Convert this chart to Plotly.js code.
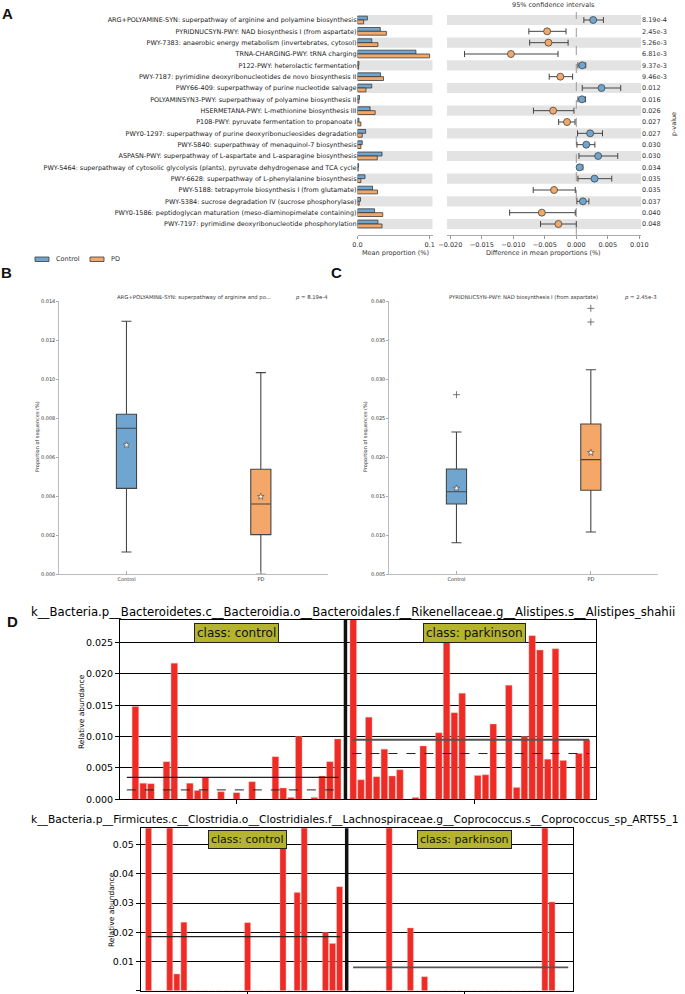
<!DOCTYPE html>
<html><head><meta charset="utf-8">
<script src="https://cdn.plot.ly/plotly-3.0.1.min.js"></script>
<style>html,body{margin:0;padding:0;background:#fff}#chart{width:685px;height:994px}</style>
</head><body><div id="chart"></div>
<script>
// ===== Panel A data =====
const pathways = [
 "ARG+POLYAMINE-SYN: superpathway of arginine and polyamine biosynthesis",
 "PYRIDNUCSYN-PWY: NAD biosynthesis I (from aspartate)",
 "PWY-7383: anaerobic energy metabolism (invertebrates, cytosol)",
 "TRNA-CHARGING-PWY: tRNA charging",
 "P122-PWY: heterolactic fermentation",
 "PWY-7187: pyrimidine deoxyribonucleotides de novo biosynthesis II",
 "PWY66-409: superpathway of purine nucleotide salvage",
 "POLYAMINSYN3-PWY: superpathway of polyamine biosynthesis II",
 "HSERMETANA-PWY: L-methionine biosynthesis III",
 "P108-PWY: pyruvate fermentation to propanoate I",
 "PWY0-1297: superpathway of purine deoxyribonucleosides degradation",
 "PWY-5840: superpathway of menaquinol-7 biosynthesis",
 "ASPASN-PWY: superpathway of L-aspartate and L-asparagine biosynthesis",
 "PWY-5464: superpathway of cytosolic glycolysis (plants), pyruvate dehydrogenase and TCA cycle",
 "PWY-6628: superpathway of L-phenylalanine biosynthesis",
 "PWY-5188: tetrapyrrole biosynthesis I (from glutamate)",
 "PWY-5384: sucrose degradation IV (sucrose phosphorylase)",
 "PWY0-1586: peptidoglycan maturation (meso-diaminopimelate containing)",
 "PWY-7197: pyrimidine deoxyribonucleotide phosphorylation"
];
const controlMean = [0.0137,0.0316,0.0198,0.081,0.002,0.032,0.0198,0.0028,0.0175,0.002,0.0113,0.0066,0.034,0.0014,0.0104,0.0208,0.0042,0.0236,0.0283];
const pdMean      = [0.0085,0.040,0.0283,0.100,0.0015,0.036,0.0118,0.002,0.0245,0.0047,0.0066,0.0047,0.0274,0.001,0.0047,0.0278,0.0024,0.035,0.034];
const diffMean = [0.00268,-0.00463,-0.00442,-0.01037,0.00095,-0.00253,0.0040,0.0009,-0.00368,-0.00147,0.0022,0.00158,0.00347,0.00053,0.0029,-0.00353,0.00105,-0.00547,-0.00284];
const ciLow    = [0.0012,-0.00753,-0.0074,-0.01774,0.00026,-0.0043,0.00095,0.00026,-0.0068,-0.0028,0.0002,0.0001,0.00042,0.00016,0.00026,-0.00684,0.0001,-0.01058,-0.00568];
const ciHigh   = [0.0043,-0.00163,-0.0013,-0.0029,0.0015,-0.00058,0.00705,0.00147,-0.00037,-0.0002,0.00416,0.00295,0.00658,0.00105,0.00563,-0.00016,0.002,-0.00016,0];
const pValues  = ["8.19e-4","2.45e-3","5.26e-3","6.81e-3","9.37e-3","9.46e-3","0.012","0.016","0.026","0.027","0.027","0.030","0.030","0.034","0.035","0.035","0.037","0.040","0.048"];
const diffTicks = [-0.02,-0.015,-0.01,-0.005,0,0.005,0.01];

// ===== Panel B / C data =====
const groups = ["Control","PD"];
const bQ1=[0.0044,0.00203], bMedian=[0.00748,0.0036], bQ3=[0.0082,0.00538], bLow=[0.00114,0.0], bHigh=[0.01296,0.01033], bMean=[0.00662,0.00398];
const bTitle = "ARG+POLYAMINE-SYN: superpathway of arginine and po...", bP = "8.19e-4";
const cQ1=[0.0140,0.01576], cMedian=[0.01558,0.01968], cQ3=[0.01849,0.02425], cLow=[0.00905,0.01042], cHigh=[0.02322,0.0312], cMean=[0.01601,0.02058];
const cOutGroup=["Control","PD","PD"], cOutVal=[0.0280,0.03906,0.03731];
const cTitle = "PYRIDNUCSYN-PWY: NAD biosynthesis I (from aspartate)", cP = "2.45e-3";

// ===== Panel D data =====
const d1Title = "k__Bacteria.p__Bacteroidetes.c__Bacteroidia.o__Bacteroidales.f__Rikenellaceae.g__Alistipes.s__Alistipes_shahii";
const d1Control = [0,0.0148,0.00255,0.0025,0,0.0060,0.0217,0,0.00255,0.0014,0.0035,0,0.0012,0,0.00105,0,0.0028,0,0,0.0068,0.0018,0.0003,0.0100,0,0.0003,0.0037,0.0060,0.0096];
const d1Parkinson = [0.030,0.0031,0.0131,0.0036,0.0080,0.0037,0.0047,0,0.0003,0.0085,0,0.0106,0.0253,0.0138,0.0169,0,0.0038,0.0039,0.0120,0,0.0182,0.0019,0.0100,0.0261,0.0238,0.0064,0.0240,0.0062,0,0.0073,0.0095];
const d1Means = [0.0035,0.0095], d1Medians = [0.0015,0.0073];
const d2Title = "k__Bacteria.p__Firmicutes.c__Clostridia.o__Clostridiales.f__Lachnospiraceae.g__Coprococcus.s__Coprococcus_sp_ART55_1";
const d2Control = [0.08,0,0,0.08,0.0057,0.0234,0,0,0,0,0,0,0,0,0.0233,0,0,0,0,0.0505,0,0.0336,0.08,0,0,0.0199,0.0162,0.0356];
const d2Parkinson = [0,0,0,0,0,0.08,0,0,0.0215,0,0.0048,0,0,0,0,0,0,0,0,0,0,0,0,0,0,0,0,0.08,0.0304,0,0];
const d2Means = [0.0185,0.0080], d2Medians = [0,0];
const classNames = ["class: control","class: parkinson"];

// ===== helpers =====
const W=685,H=994;
const PX=x=>x/W, PY=y=>1-y/H;
const dX=(a,b)=>[a/W,b/W], dY=(t,b)=>[1-b/H,1-t/H];
const BLUE="#6fa5cf", ORANGE="#f3a769", EDGE="#3a3a3a", FONT="DejaVu Sans";
const idx = pathways.map((_,i)=>i);

const traces=[], shapes=[], ann=[];
function T(text,x,y,size,opt){
  ann.push(Object.assign({text:text,xref:"paper",yref:"paper",x:PX(x),y:PY(y),xanchor:"center",yanchor:"middle",
    showarrow:false,font:{family:FONT,size:size,color:"#333"}},opt||{}));
}

// ---- Panel A left bars
traces.push({type:"bar",orientation:"h",name:"Control",y:idx,x:controlMean,offset:-0.34,width:0.34,
  marker:{color:BLUE,line:{color:EDGE,width:0.8}},xaxis:"x",yaxis:"y",hoverinfo:"skip"});
traces.push({type:"bar",orientation:"h",name:"PD",y:idx,x:pdMean,offset:0,width:0.34,
  marker:{color:ORANGE,line:{color:EDGE,width:0.8}},xaxis:"x",yaxis:"y",hoverinfo:"skip"});
// ---- Panel A right CI
traces.push({type:"scatter",mode:"markers",x:diffMean,y:idx,xaxis:"x2",yaxis:"y2",
  error_x:{type:"data",symmetric:false,array:ciHigh.map((h,i)=>h-diffMean[i]),arrayminus:ciLow.map((l,i)=>diffMean[i]-l),color:"#444",thickness:1,width:3},
  marker:{size:7,color:diffMean.map(d=>d>0?BLUE:ORANGE),line:{color:"#444",width:0.8}},hoverinfo:"skip"});
idx.forEach(i=>{ if(i%2===0){
  shapes.push({type:"rect",xref:"x domain",yref:"y",x0:0,x1:1,y0:i-0.45,y1:i+0.45,fillcolor:"#e3e3e3",line:{width:0},layer:"below"});
  shapes.push({type:"rect",xref:"x2 domain",yref:"y2",x0:0,x1:1,y0:i-0.45,y1:i+0.45,fillcolor:"#e3e3e3",line:{width:0},layer:"below"});
}});
shapes.push({type:"line",xref:"x2",yref:"paper",x0:0,x1:0,y0:PY(235),y1:PY(12),line:{color:"#999",width:1,dash:"dash"},layer:"below"});
T("95% confidence intervals",553,5,6.5);
T("Mean proportion (%)",395,253,6.5);
T("Difference in mean proportions (%)",543,253,6.5);
T("p-value",674,124,6.5,{textangle:-90});
// legend
[["Control",BLUE,35],["PD",ORANGE,90]].forEach(([n,c,x])=>{
  shapes.push({type:"rect",xref:"paper",yref:"paper",x0:PX(x),x1:PX(x+14),y0:PY(261.5),y1:PY(257),fillcolor:c,line:{color:EDGE,width:0.8}});
  T(n,x+19,259.3,6.5,{xanchor:"left"});
});
// panel letters
[["A",7.5,14],["B",6,272],["C",336,272],["D",12,621]].forEach(([t,x,y])=>{
  T("<b>"+t+"</b>",x,y,15,{font:{family:"Liberation Sans",size:15,color:"#111"}});
});

// ---- Panels B and C boxes
function boxPanel(xa,ya,q1,med,q3,lo,hi,mean){
  [BLUE,ORANGE].forEach((c,i)=>{
    traces.push({type:"box",x:[groups[i]],q1:[q1[i]],median:[med[i]],q3:[q3[i]],lowerfence:[lo[i]],upperfence:[hi[i]],
      fillcolor:c,line:{color:"#454545",width:1.1},width:0.15,whiskerwidth:0.5,boxpoints:false,xaxis:xa,yaxis:ya,hoverinfo:"skip"});
  });
  traces.push({type:"scatter",mode:"markers",x:groups,y:mean,xaxis:xa,yaxis:ya,
    marker:{symbol:"star",size:5,color:"#fff",line:{color:"#555",width:0.7}},hoverinfo:"skip"});
}
boxPanel("x3","y3",bQ1,bMedian,bQ3,bLow,bHigh,bMean);
boxPanel("x4","y4",cQ1,cMedian,cQ3,cLow,cHigh,cMean);
traces.push({type:"scatter",mode:"markers",x:cOutGroup,y:cOutVal,xaxis:"x4",yaxis:"y4",
  marker:{symbol:"cross-thin-open",size:5,color:"#555",line:{color:"#555",width:0.8}},hoverinfo:"skip"});
T(bTitle,194,297,5.3);
T("<i>p</i> = "+bP,330,297,5.3,{xanchor:"right"});
T(cTitle,523,297,5.3);
T("<i>p</i> = "+cP,659,297,5.3,{xanchor:"right"});
T("Proportion of sequences (%)",37,437,5,{textangle:-90});
T("Proportion of sequences (%)",365,437,5,{textangle:-90});

// ---- Panel D
function dPanel(xa,ya,ctrl,park,means,meds){
  const xc=ctrl.map((_,i)=>i), xp=park.map((_,i)=>ctrl.length+1+i);
  traces.push({type:"bar",x:xc.concat(xp),y:ctrl.concat(park),width:0.84,xaxis:xa,yaxis:ya,
    marker:{color:"#ee2b24",line:{color:"#f7b0ad",width:0.4}},hoverinfo:"skip"});
  const ranges=[[xc[0]-0.1,xc[xc.length-1]+0.1],[xp[0]-0.1,xp[xp.length-1]+0.3]];
  [0,1].forEach(k=>{
    traces.push({type:"scatter",mode:"lines",x:ranges[k],y:[means[k],means[k]],xaxis:xa,yaxis:ya,line:{color:k?"#555":"#222",width:k?1.8:1.1},hoverinfo:"skip"});
    if(meds[k]>0) traces.push({type:"scatter",mode:"lines",x:ranges[k],y:[meds[k],meds[k]],xaxis:xa,yaxis:ya,line:{color:"#222",width:1,dash:"dash"},hoverinfo:"skip"});
  });
  shapes.push({type:"line",xref:xa,yref:ya+" domain",x0:ctrl.length,x1:ctrl.length,y0:0,y1:1,line:{color:"#111",width:3.5}});
}
dPanel("x5","y5",d1Control,d1Parkinson,d1Means,d1Medians);
dPanel("x6","y6",d2Control,d2Parkinson,d2Means,d2Medians);
T(d1Title,29,612,11.7,{xanchor:"left",font:{family:FONT,size:11.7,color:"#000"}});
T(d2Title,29,819.5,10.7,{xanchor:"left",font:{family:FONT,size:10.7,color:"#000"}});
const classX=[14,44.6];
[["x5",632.5,12],["x6",839.4,11]].forEach(([xa,y,fs])=>{
  classNames.forEach((n,k)=>{
    ann.push({text:n,xref:xa,yref:"paper",x:classX[k],y:PY(y),xanchor:"center",yanchor:"middle",showarrow:false,
      bgcolor:"#b4b42e",bordercolor:"#222",borderwidth:1,borderpad:2,font:{family:FONT,size:fs,color:"#111"}});
  });
});
T("Relative abundance",81,712,7.5,{textangle:-90,font:{family:FONT,size:7.5,color:"#000"}});
T("Relative abundance",111,910,7.5,{textangle:-90,font:{family:FONT,size:7.5,color:"#000"}});

const tf=(s,c)=>({family:FONT,size:s,color:c||"#333"});
const base={showgrid:false,zeroline:false,fixedrange:true};
const layout={
  width:W,height:H,margin:{l:0,r:0,t:0,b:0},paper_bgcolor:"#fff",plot_bgcolor:"rgba(0,0,0,0)",
  showlegend:false,barmode:"overlay",font:{family:FONT},
  xaxis:Object.assign({},base,{domain:dX(357.5,432.5),range:[0,0.104],anchor:"y",tickvals:[0,0.1],ticktext:["0.0","0.1"],ticks:"outside",ticklen:3,tickcolor:"#999",showline:true,linecolor:"#aaa",linewidth:1,tickfont:tf(6.5)}),
  yaxis:Object.assign({},base,{domain:dY(14,235),range:[18.97,-0.53],anchor:"x",tickvals:idx,ticktext:pathways,ticks:"",showline:false,tickfont:tf(6.45,"#222")}),
  xaxis2:Object.assign({},base,{domain:dX(447,641),range:[-0.02052,0.01027],anchor:"y2",tickvals:diffTicks,tickformat:".3f",ticks:"outside",ticklen:3,tickcolor:"#999",showline:true,linecolor:"#aaa",linewidth:1,tickfont:tf(6.5)}),
  yaxis2:Object.assign({},base,{domain:dY(14,235),range:[18.97,-0.53],anchor:"x2",side:"right",tickvals:idx,ticktext:pValues,ticks:"",showline:false,tickfont:tf(6.5)}),
  xaxis3:Object.assign({},base,{domain:dX(59.3,328),type:"category",categoryorder:"array",categoryarray:groups,range:[-0.5,1.5],anchor:"y3",ticks:"inside",ticklen:3,tickcolor:"#aaa",showline:true,linecolor:"#bbb",linewidth:1,tickfont:tf(5)}),
  yaxis3:Object.assign({},base,{domain:dY(301,574.3),range:[0,0.014],dtick:0.002,tickformat:".3f",anchor:"x3",ticks:"outside",ticklen:2,tickcolor:"#aaa",showline:true,linecolor:"#bbb",linewidth:1,tickfont:tf(5)}),
  xaxis4:Object.assign({},base,{domain:dX(389.3,658),type:"category",categoryorder:"array",categoryarray:groups,range:[-0.5,1.5],anchor:"y4",ticks:"inside",ticklen:3,tickcolor:"#aaa",showline:true,linecolor:"#bbb",linewidth:1,tickfont:tf(5)}),
  yaxis4:Object.assign({},base,{domain:dY(301,574.3),range:[0.005,0.040],dtick:0.005,tickformat:".3f",anchor:"x4",ticks:"outside",ticklen:2,tickcolor:"#aaa",showline:true,linecolor:"#bbb",linewidth:1,tickfont:tf(5)}),
  xaxis5:Object.assign({},base,{domain:dX(120,595.5),range:[-0.98,60.14],anchor:"y5",tickvals:classX,showticklabels:false,ticks:"outside",ticklen:4,tickcolor:"#000",showline:true,mirror:true,linecolor:"#000",linewidth:1}),
  yaxis5:Object.assign({},base,{domain:dY(620,799.3),range:[0,0.0286],dtick:0.005,tickformat:".3f",anchor:"x5",ticks:"outside",ticklen:4,tickcolor:"#000",showgrid:true,gridcolor:"#000",gridwidth:1,showline:true,mirror:true,linecolor:"#000",linewidth:1,tickfont:tf(9.5,"#000")}),
  xaxis6:Object.assign({},base,{domain:dX(140.7,573.2),range:[-1.1,60.0],anchor:"y6",tickvals:classX,showticklabels:false,ticks:"outside",ticklen:4,tickcolor:"#000",showline:true,mirror:true,linecolor:"#000",linewidth:1}),
  yaxis6:Object.assign({},base,{domain:dY(828.3,990.7),range:[0,0.0556],dtick:0.01,tickformat:".2f",anchor:"x6",ticks:"outside",ticklen:4,tickcolor:"#000",showgrid:true,gridcolor:"#000",gridwidth:1,showline:true,mirror:true,linecolor:"#000",linewidth:1,tickfont:tf(9.5,"#000")}),
  shapes:shapes,annotations:ann
};
Plotly.newPlot("chart",traces,layout,{displayModeBar:false,staticPlot:true});
</script></body></html>
